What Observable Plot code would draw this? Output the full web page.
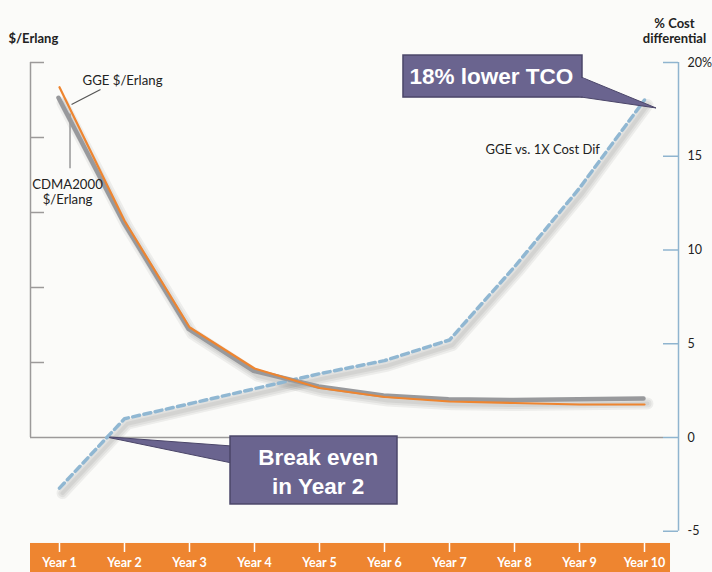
<!DOCTYPE html>
<html>
<head>
<meta charset="utf-8">
<script src="https://cdn.jsdelivr.net/npm/d3@7"></script>
<script src="https://cdn.jsdelivr.net/npm/@observablehq/plot@0.6"></script>
<style>
  html, body { margin: 0; padding: 0; background: #ffffff; }
  #chart svg { display: block; }
</style>
</head>
<body>
<div id="chart"></div>
<script>
// ---- data ----
const years = ["Year 1", "Year 2", "Year 3", "Year 4", "Year 5", "Year 6", "Year 7", "Year 8", "Year 9", "Year 10"];
const ggeCost = [4.67, 2.89, 1.47, 0.92, 0.66, 0.54, 0.48, 0.46, 0.44, 0.44];
const cdmaCost = [4.53, 2.87, 1.45, 0.89, 0.68, 0.56, 0.51, 0.50, 0.51, 0.52];
const costDiffPct = [-2.7, 1.0, 1.8, 2.6, 3.4, 4.1, 5.2, 9.1, 13.3, 18.0];
const leftTicks = [1, 2, 3, 4, 5];
const rightTicks = [-5, 0, 5, 10, 15, 20];
const rightTickLabels = ["-5", "0", "5", "10", "15", "20%"];
const pctPerUnit = 4; // right-axis percent per left-axis unit

// ---- layout (in scale units) ----
const xMin = 0.554, xMax = 10.523;
const yMin = -1.25, yMax = 5;
const pxX = 65, pxY = 75; // pixels per unit
const bandTop = -1.413, bandBottom = -1.8, bandRight = 10.4;

const rows = years.map((label, i) => ({
  year: i + 1, label, gge: ggeCost[i], cdma: cdmaCost[i], diff: costDiffPct[i] / pctPerUnit
}));

const purple = "#6a648f";
const purpleEdge = "#4b4669";
const gray = "#98999c";
const orange = "#ee8530";
const blue = "#90b7d2";
const axisGray = "#9c9a9a";
const axisBlue = "#8fb4cf";
const labelFont = "Lato, 'Open Sans', sans-serif";
const calloutFont = "'Liberation Sans', Arial, sans-serif";

function shadow(y, opts = {}) {
  return [12, 8, 4].map(w => Plot.line(rows, {
    x: "year", y, stroke: "#000", strokeOpacity: 0.055, strokeWidth: w,
    dx: 3, dy: 5, strokeLinejoin: "round", strokeLinecap: "round", ...opts
  }));
}

const chart = Plot.plot({
  width: 712,
  height: 572,
  marginLeft: 30,
  marginRight: 34,
  marginTop: 62,
  marginBottom: 41.25,
  x: { domain: [xMin, xMax], axis: null },
  y: { domain: [yMin, yMax], axis: null },
  style: { background: "#fbfbf9", fontFamily: labelFont, overflow: "visible" },
  marks: [
    // orange x-axis band
    Plot.rect([0], { x1: xMin, x2: bandRight, y1: bandBottom, y2: bandTop, fill: orange }),
    Plot.ruleX(rows, { x: "year", y1: bandTop, y2: bandTop - 9 / pxY, stroke: "white", strokeWidth: 1.5 }),
    Plot.text(rows, { x: "year", y: -1.676, text: "label", fill: "white", fontWeight: 700, fontSize: 12.5 }),

    // left axis
    Plot.ruleX([xMin], { y1: 0, y2: yMax, stroke: axisGray, strokeWidth: 1.5 }),
    Plot.ruleY(leftTicks, { y: d => d, x1: xMin, x2: xMin + 14 / pxX, stroke: axisGray, strokeWidth: 1.5 }),
    Plot.ruleY([0], { x1: xMin, x2: xMax - 15 / pxX, stroke: axisGray, strokeWidth: 1.5 }),

    // right axis
    Plot.ruleX([xMax], { y1: yMin, y2: yMax, stroke: axisBlue, strokeWidth: 1.5 }),
    Plot.ruleY(rightTicks, { y: d => d / pctPerUnit, x1: xMax - 15 / pxX, x2: xMax, stroke: axisBlue, strokeWidth: 1.5 }),
    Plot.text(rightTicks, { x: xMax, y: d => d / pctPerUnit, text: (d, i) => rightTickLabels[i], dx: 9, textAnchor: "start", fontSize: 12.5, fill: "#222" }),

    // axis titles
    Plot.text(["$/Erlang"], { frameAnchor: "top-left", dx: -22, dy: -29, text: d => d, textAnchor: "start", fontWeight: 700, fontSize: 13, fill: "#222" }),
    Plot.text(["% Cost\ndifferential"], { frameAnchor: "top-right", dx: -4, dy: -45, text: d => d, textAnchor: "middle", fontWeight: 700, fontSize: 13, lineHeight: 1.15, fill: "#222" }),

    // shadows
    ...shadow(d => d.diff),
    ...shadow("cdma"),

    // series
    Plot.line(rows, { x: "year", y: "diff", stroke: blue, strokeWidth: 3.5, strokeDasharray: "7,4.5" }),
    Plot.line(rows, { x: "year", y: "cdma", stroke: gray, strokeWidth: 4.5, dx: -1 }),
    Plot.line(rows, { x: "year", y: "gge", stroke: orange, strokeWidth: 2.2 }),

    // series labels with leaders
    Plot.link([0], { x1: 1.185, y1: 4.44, x2: 1.631, y2: 4.64, stroke: "#555", strokeWidth: 1.2 }),
    Plot.text(["GGE $/Erlang"], { x: 1.354, y: 4.76, text: d => d, textAnchor: "start", fontSize: 13.2, fill: "#222" }),
    Plot.link([0], { x1: 1.162, y1: 4.32, x2: 1.162, y2: 3.59, stroke: "#999", strokeWidth: 1.5 }),
    Plot.text(["CDMA2000\n$/Erlang"], { x: 1.123, y: 3.273, text: d => d, textAnchor: "middle", fontSize: 13.2, lineHeight: 1.15, fill: "#222" }),
    Plot.text(["GGE vs. 1X Cost Dif"], { x: 7.554, y: 3.83, text: d => d, textAnchor: "start", fontSize: 13, fill: "#222" }),

    // callout: 18% lower TCO
    Plot.areaY([{ x: 9.03, y1: 4.8, y2: 4.533 }, { x: 10.185, y1: 4.387, y2: 4.387 }], { x: "x", y1: "y1", y2: "y2", fill: purple, stroke: purpleEdge, strokeWidth: 1 }),
    Plot.rect([0], { x1: 6.292, x2: 9.046, y1: 4.533, y2: 5.093, fill: purple, stroke: purpleEdge, strokeWidth: 1.5 }),
    Plot.areaY([{ x: 9.0, y1: 4.79, y2: 4.545 }, { x: 9.1, y1: 4.78, y2: 4.54 }], { x: "x", y1: "y1", y2: "y2", fill: purple }),
    Plot.text(["18% lower TCO"], { x: 6.385, y: 4.81, text: d => d, textAnchor: "start", fill: "white", fontWeight: 700, fontSize: 22.5, fontFamily: calloutFont }),

    // callout: Break even in Year 2
    Plot.areaY([{ x: 1.785, y1: 0, y2: -0.01 }, { x: 3.66, y1: -0.12, y2: -0.347 }], { x: "x", y1: "y1", y2: "y2", fill: purple, stroke: purpleEdge, strokeWidth: 1 }),
    Plot.rect([0], { x1: 3.631, x2: 6.2, y1: -0.893, y2: 0.013, fill: purple, stroke: purpleEdge, strokeWidth: 1.5 }),
    Plot.text(["Break even\nin Year 2"], { x: 4.98, y: -0.44, text: d => d, textAnchor: "middle", fill: "white", fontWeight: 700, fontSize: 22.5, lineHeight: 1.25, fontFamily: calloutFont })
  ]
});

document.getElementById("chart").appendChild(chart);
</script>
</body>
</html>
